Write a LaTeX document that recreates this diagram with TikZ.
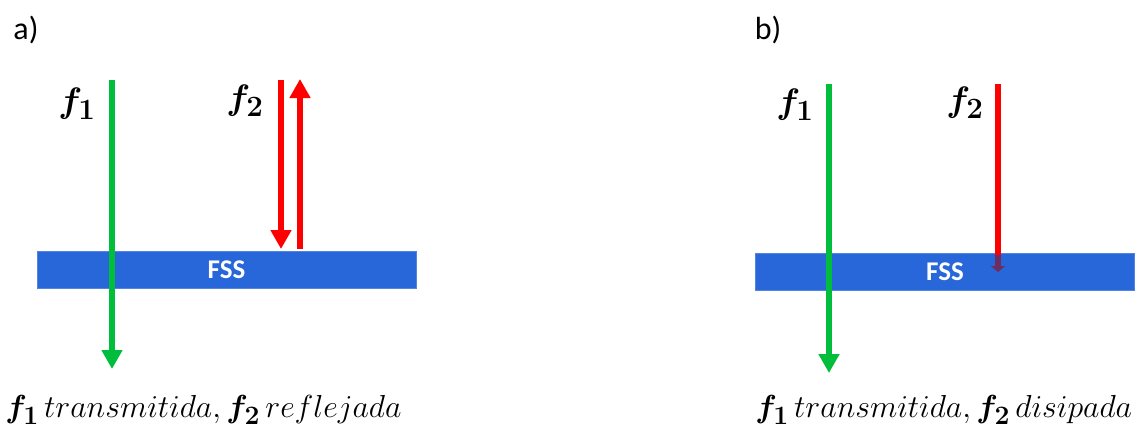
\documentclass[tikz,border=0pt]{standalone}
\usepackage{fontspec}
\usepackage{amsmath}
\usepackage{bm}
\usetikzlibrary{arrows.meta}
\newfontfamily\carlito{Carlito}
\definecolor{fssblue}{RGB}{39,103,217}
\definecolor{grn}{RGB}{0,190,60}
\definecolor{rd}{RGB}{255,0,0}
\tikzset{
  fss/.style={rectangle, fill=fssblue, draw=fssblue!80!white, line width=0.8pt, minimum width=379pt, minimum height=37pt, inner sep=0pt, text=white, font=\carlito\bfseries\fontsize{27}{32}\selectfont},
  arr/.style={line width=6pt, -{Triangle[width=20pt,length=19pt]}},
  flab/.style={inner sep=0pt, scale=1.42, font=\fontsize{24.88}{30}\selectfont},
  panlab/.style={inner sep=0pt, font=\carlito\fontsize{32}{38}\selectfont},
  caption/.style={inner sep=0pt, anchor=west, scale=1.28, font=\fontsize{24.88}{30}\selectfont}
}
\begin{document}
\begin{tikzpicture}[x=1pt,y=-1pt]
\useasboundingbox (0,0) rectangle (1147,437);
% panel a
\node[panlab] (la) at (26,30) {a)};
\node[fss] (fa) at (226.5,269.5) {FSS};
\node[flab] (f1a) at (77,104) {$\bm{f_1}$};
\node[flab] (f2a) at (245,101) {$\bm{f_2}$};
\coordinate (g1s) at (112,80);
\coordinate (g1e) at (112,369);
\coordinate (r1s) at (281,80);
\coordinate (r1e) at (281,249);
\coordinate (r2s) at (300,249);
\coordinate (r2e) at (300,79);
\draw[arr, grn] (g1s) -- (g1e);
\draw[arr, rd] (r1s) -- (r1e);
\draw[arr, rd] (r2s) -- (r2e);
\node[caption] (ca) at (5,410) {$\bm{f_1}\,transmitida,\bm{f_2}\,reflejada$};
% panel b
\node[panlab] (lb) at (768,30) {b)};
\node[fss] (fb) at (945,271.5) {FSS};
\node[flab] (f1b) at (795,105) {$\bm{f_1}$};
\node[flab] (f2b) at (965,103) {$\bm{f_2}$};
\coordinate (g2s) at (829,84);
\coordinate (g2e) at (829,373);
\coordinate (r3s) at (998,84);
\coordinate (r3m) at (998,255);
\coordinate (r3e) at (998,272);
\draw[line width=6pt, rd] (r3s) -- (r3m);
\draw[line width=6pt, -{Triangle[width=14pt,length=6pt]}, rd!45!fssblue!80!black] (r3m) -- (r3e);
\draw[arr, grn] (g2s) -- (g2e);
\node[caption] (cb) at (755,410) {$\bm{f_1}\,transmitida,\bm{f_2}\,disipada$};
\end{tikzpicture}
\end{document}
